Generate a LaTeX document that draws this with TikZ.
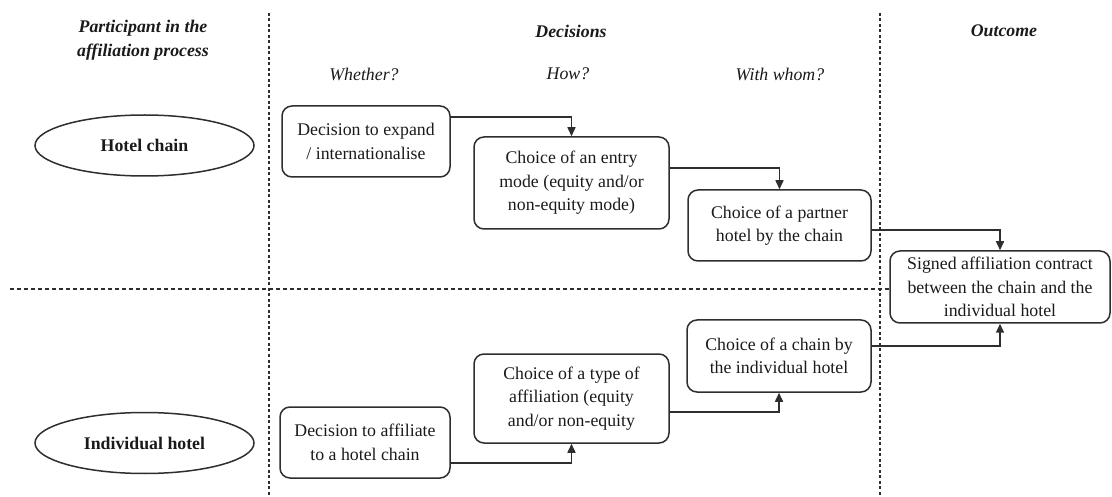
\documentclass[tikz,border=0pt]{standalone}
\usepackage{fontspec}
\setmainfont{Liberation Serif}
\usetikzlibrary{arrows.meta,shapes.geometric}

\definecolor{ln}{HTML}{2E2E2E}
\definecolor{txt}{HTML}{1A1A1A}

\begin{document}
\begin{tikzpicture}[x=1pt,y=-1pt,
  every node/.style={font=\fontsize{17.8}{23.5}\selectfont, text=txt},
  box/.style={draw=ln, line width=1.5pt, rounded corners=10pt, align=center, inner sep=0pt},
  party/.style={draw=ln, line width=1.5pt, ellipse, minimum width=219pt, minimum height=61pt,
                inner sep=0pt, font=\fontsize{17.8}{23.5}\selectfont\bfseries},
  head/.style={font=\fontsize{17.8}{23.5}\selectfont\bfseries\itshape, align=center},
  question/.style={font=\fontsize{17.8}{23.5}\selectfont\itshape},
  arr/.style={draw=ln, line width=1.5pt, -{Triangle[length=9pt,width=8pt]}},
  vsep/.style={draw=ln, line width=1.3pt, dash pattern=on 3pt off 2.5pt},
  hsep/.style={draw=ln, line width=1.3pt, dash pattern=on 4pt off 3pt}
]
\useasboundingbox (0,0) rectangle (1112,497);

% column headings
\node[head] (hpart) at (143,40) {Participant in the\\affiliation process};
\node[head] (hdec)  at (571,31) {Decisions};
\node[head] (hout)  at (1004,31) {Outcome};
\node[question] (qwhether) at (364,74) {Whether?};
\node[question] (qhow)     at (568,74) {How?};
\node[question] (qwhom)    at (780,74) {With whom?};

% participants
\node[party] (chain) at (144.5,145.5) {Hotel chain};
\node[party] (indiv) at (144.5,443) {Individual hotel};

% decision boxes, hotel chain side
\node[box, minimum width=168pt, minimum height=71pt] (A) at (366,141.5)
  {Decision to expand\\/ internationalise};
\node[box, minimum width=195pt, minimum height=92pt] (B) at (571.5,183)
  {Choice of an entry\\mode (equity and/or\\non-equity mode)};
\node[box, minimum width=183pt, minimum height=71pt] (C) at (779.5,225.5)
  {Choice of a partner\\hotel by the chain};

% decision boxes, individual hotel side
\node[box, minimum width=170pt, minimum height=71pt] (H) at (365,442.5)
  {Decision to affiliate\\to a hotel chain};
\node[box, minimum width=195pt, minimum height=89pt] (G) at (571.5,398.5)
  {Choice of a type of\\affiliation (equity\\and/or non-equity};
\node[box, minimum width=184pt, minimum height=72pt] (F) at (779,356)
  {Choice of a chain by\\the individual hotel};

% outcome
\node[box, minimum width=220pt, minimum height=72pt] (D) at (1000,287)
  {Signed affiliation contract\\between the chain and the\\individual hotel};

% separators
\draw[vsep] (269,13) -- (269,497);
\draw[vsep] (880,13) -- (880,497);
\coordinate (hl) at (10,289);
\draw[hsep] (hl) -- (D.west |- hl);

% connector heights
\coordinate (yA) at (0,117);
\coordinate (yB) at (0,168);
\coordinate (yC) at (0,230);
\coordinate (yH) at (0,463);
\coordinate (yG) at (0,412);
\coordinate (yF) at (0,346);

% connectors
\draw[arr] (A.east |- yA) -| (B.north);
\draw[arr] (B.east |- yB) -| (C.north);
\draw[arr] (C.east |- yC) -| (D.north);
\draw[arr] (H.east |- yH) -| (G.south);
\draw[arr] (G.east |- yG) -| (F.south);
\draw[arr] (F.east |- yF) -| (D.south);
\end{tikzpicture}
\end{document}
